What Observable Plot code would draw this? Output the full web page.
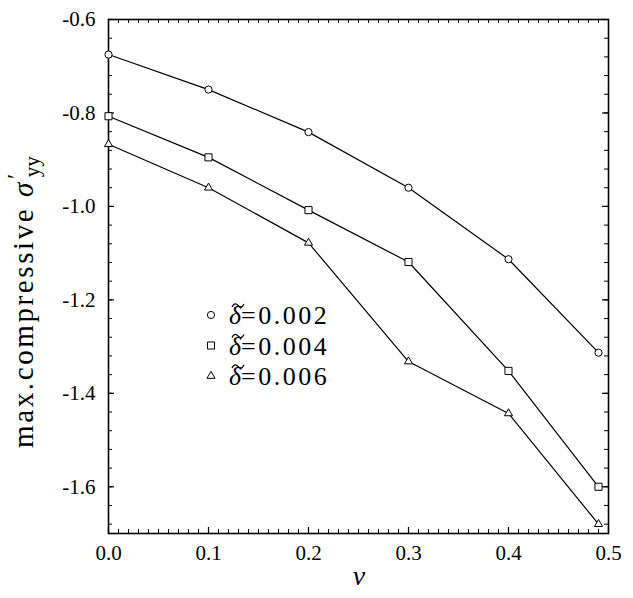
<!DOCTYPE html>
<html>
<head>
<meta charset="utf-8">
<script src="https://cdn.jsdelivr.net/npm/d3@7"></script>
<script src="https://cdn.jsdelivr.net/npm/@observablehq/plot@0.6"></script>
<style>
  html, body { margin: 0; padding: 0; background: white; }
  #chart { width: 633px; height: 598px; }
  #chart svg text, #chart svg tspan { font-family: "Liberation Serif", Tinos, "Times New Roman", serif; }
</style>
</head>
<body>
<div id="chart"></div>
<script>
// ---- data ----
const nu = [0, 0.1, 0.2, 0.3, 0.4, 0.49];
const delta002 = [-0.675, -0.750, -0.841, -0.960, -1.113, -1.313];
const delta004 = [-0.807, -0.895, -1.008, -1.119, -1.352, -1.600];
const delta006 = [-0.867, -0.960, -1.078, -1.332, -1.443, -1.680];
const seriesLabels = ["0.002", "0.004", "0.006"];
const seriesSymbols = ["circle", "square", "triangle"];
const xTicks = [0, 0.1, 0.2, 0.3, 0.4, 0.5];
const yTicks = [-0.6, -0.8, -1.0, -1.2, -1.4, -1.6];
const xMinorTicks = d3.range(0, 51).map(i => i / 100);
const yMinorTicks = d3.range(0, 28).map(i => -0.6 - i * 0.04);

const allSeries = [delta002, delta004, delta006];
const rows = allSeries.map((vals, s) => nu.map((x, i) => ({nu: x, v: vals[i], s})));
const symbolR = [3.6, 4, 3];

const W = 633, H = 598, mL = 108, mR = 25, mT = 19, mB = 65;
const innerH = H - mT - mB, innerW = W - mL - mR;

const marks = [
  Plot.tickX(xMinorTicks, {x: d => d, insetTop: innerH - 4, stroke: "black", strokeWidth: 1}),
  Plot.tickX(xMinorTicks, {x: d => d, insetBottom: innerH - 4, stroke: "black", strokeWidth: 1}),
  Plot.tickX(xTicks, {x: d => d, insetTop: innerH - 6, stroke: "black", strokeWidth: 1.2}),
  Plot.tickY(yMinorTicks, {y: d => d, insetRight: innerW - 4, stroke: "black", strokeWidth: 1}),
  Plot.tickY(yMinorTicks, {y: d => d, insetLeft: innerW - 4, stroke: "black", strokeWidth: 1}),
  Plot.tickY(yTicks, {y: d => d, insetRight: innerW - 6, stroke: "black", strokeWidth: 1.2}),
  Plot.tickY(yTicks, {y: d => d, insetLeft: innerW - 6, stroke: "black", strokeWidth: 1.2}),
  Plot.frame({stroke: "black", strokeWidth: 1.6}),
  Plot.axisX({ticks: xTicks, tickSize: 0, tickPadding: 12, tickFormat: d => d.toFixed(1), fontSize: 21, label: null}),
  Plot.axisY({ticks: yTicks, tickSize: 0, tickPadding: 13, tickFormat: d => d.toFixed(1), fontSize: 21, label: null})
];
rows.forEach((r, s) => {
  marks.push(Plot.line(r, {x: "nu", y: "v", stroke: "black", strokeWidth: 1.2}));
  marks.push(Plot.dot(r, {x: "nu", y: "v", symbol: seriesSymbols[s], r: symbolR[s], fill: "white", stroke: "black", strokeWidth: 1}));
});

const chart = Plot.plot({
  width: W, height: H,
  marginLeft: mL, marginRight: mR, marginTop: mT, marginBottom: mB,
  x: {domain: [0, 0.5]},
  y: {domain: [-1.7, -0.6]},
  style: {background: "white", color: "black", fontSize: "21px", fontFamily: "Liberation Serif, serif"},
  marks
});
document.getElementById("chart").appendChild(chart);

const svg = d3.select(chart);
// y-axis label
const yl = svg.append("text")
  .attr("transform", "translate(33,302) rotate(-90)")
  .attr("text-anchor", "middle")
  .attr("fill", "black")
  .style("font-size", "29px")
  .style("letter-spacing", "2.6px");
yl.append("tspan").text("max.compressive ");
yl.append("tspan").text("σ").style("font-style", "italic");
yl.append("tspan").text("′").attr("dy", "-0.4em").attr("dx", "1").style("font-size", "24px");
yl.append("tspan").text("yy").attr("dx", "-6").attr("dy", "0.75em").style("font-size", "21px").style("letter-spacing", "0px");

// x-axis label
svg.append("text")
  .attr("x", 359).attr("y", 585)
  .attr("text-anchor", "middle")
  .attr("fill", "black")
  .style("font-size", "28px")
  .style("font-style", "italic")
  .text("ν");

// legend
const lg = svg.append("g");
seriesLabels.forEach((lab, i) => {
  const cy = 315 + 30.5 * i;
  const sym = {circle: d3.symbolCircle, square: d3.symbolSquare, triangle: d3.symbolTriangle}[seriesSymbols[i]];
  const r = symbolR[i];
  lg.append("path")
    .attr("transform", `translate(211,${cy})`)
    .attr("d", d3.symbol(sym, Math.PI * r * r)())
    .attr("fill", "white").attr("stroke", "black").attr("stroke-width", 1);
  const t = lg.append("text")
    .attr("x", 229).attr("y", cy + 9)
    .attr("text-anchor", "start")
    .attr("fill", "black")
    .style("font-size", "26px");
  t.append("tspan").text("δ").style("font-style", "italic");
  t.append("tspan").text("=" + lab).style("letter-spacing", "2.5px");
  // tilde accent over the delta
  lg.append("path")
    .attr("transform", `translate(232,${cy - 11})`)
    .attr("d", "M0,3 C2,-1 4,-1 6,1.5 S10,4 12,0")
    .attr("fill", "none").attr("stroke", "black").attr("stroke-width", 1.3);
});
</script>
</body>
</html>
